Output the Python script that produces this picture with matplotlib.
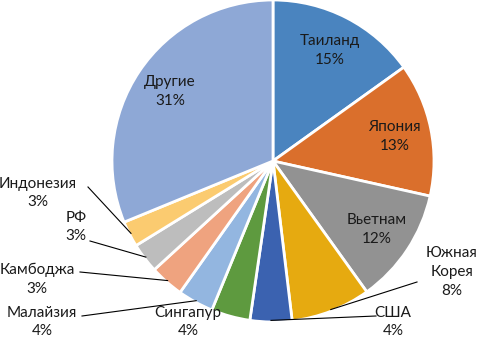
import numpy as np
import matplotlib
matplotlib.use("Agg")
import matplotlib.pyplot as plt

plt.rcParams['font.family'] = ['Lato', 'DejaVu Sans']

countries = ["Таиланд", "Япония", "Вьетнам", "Южная\nКорея", "США", "Сингапур",
             "Малайзия", "Камбоджа", "РФ", "Индонезия", "Другие"]
shares = [15.1, 13.4, 11.6, 8.0, 4.2, 3.9, 3.6, 3.4, 3.0, 2.6, 31.2]
colors = ["#4A84BF", "#DA6F2C", "#929292", "#E6AA10", "#3B62B0", "#5E9A3F",
          "#93B6E0", "#EFA37F", "#BDBDBD", "#FBCB70", "#8EA8D6"]

# label placement (pixels of the 479x342 canvas), None -> inside the slice
label_px = [None, None, None, (452, 272), (393, 322), (188, 322),
            (42, 322), (37, 279), (76, 227), (38, 193), None]
# leader lines: start of line near the label (pixels)
line_px = [None, None, None, (417, 282), (376, 316), None,
           (82, 316), (80, 272), (90, 241), (88, 187), None]

W, H = 479, 342
cx, cy, R = 273, 161, 161


def to_data(p):
    return ((p[0] - cx) / R, (cy - p[1]) / R)


fig = plt.figure(figsize=(W / 100, H / 100), dpi=100)
ax = fig.add_axes([0, 0, 1, 1])
wedges, _ = ax.pie(shares, colors=colors, startangle=90, counterclock=False,
                   wedgeprops=dict(edgecolor="white", linewidth=2))
ax.set_xlim(-cx / R, (W - cx) / R)
ax.set_ylim((cy - H) / R, cy / R)
ax.set_aspect("equal")
ax.axis("off")

tc = "#1a1a1a"
fs = 11
for i, w in enumerate(wedges):
    name = countries[i]
    txt = "%s\n%d%%" % (name, round(shares[i]))
    mid = np.deg2rad((w.theta1 + w.theta2) / 2)
    if label_px[i] is None:
        r = 0.77
        ax.text(r * np.cos(mid), r * np.sin(mid), txt, ha="center", va="center",
                fontsize=fs, color=tc, linespacing=1.45)
        continue
    tx, ty = to_data(label_px[i])
    ax.text(tx, ty, txt, ha="center", va="center", fontsize=fs, color=tc,
            linespacing=1.45)
    if line_px[i] is not None:
        lx, ly = to_data(line_px[i])
        ex, ey = 0.99 * np.cos(mid), 0.99 * np.sin(mid)
        ax.plot([lx, ex], [ly, ey], color="#000000", lw=0.8)

fig.savefig("out.png", dpi=100)
